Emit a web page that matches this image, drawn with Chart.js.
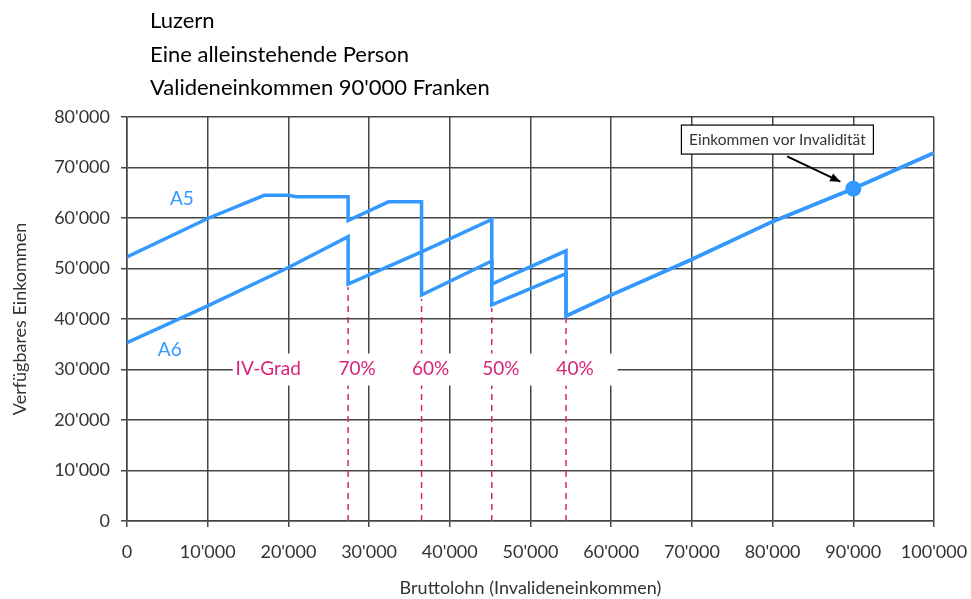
<!DOCTYPE html>
<html>
<head>
<meta charset="utf-8">
<script src="https://cdn.jsdelivr.net/npm/chart.js@4.4.0/dist/chart.umd.min.js"></script>
<style>
  body { margin: 0; background: #fff; }
  #wrap { width: 971px; height: 599px; }
</style>
</head>
<body>
<div id="wrap"><canvas id="chart" width="971" height="599"></canvas></div>
<script>
// A5 / A6: verfügbares Einkommen nach Bruttolohn
var a5X = [0, 10000, 17000, 20000, 21000, 27400, 27400, 32400, 36500, 36500, 45200, 45200, 54400, 54400, 60000, 70000, 80000, 90000, 100000];
var a5Y = [52300, 59900, 64500, 64500, 64200, 64200, 59500, 63200, 63200, 44750, 51500, 46900, 53500, 40600, 44750, 51800, 59300, 65800, 72900];
var a6X = [0, 10000, 20000, 27400, 27400, 36500, 45200, 45200, 54400, 54400, 60000, 70000, 80000, 90000, 100000];
var a6Y = [35300, 42600, 50200, 56300, 46900, 53300, 59700, 42800, 49000, 40600, 44750, 51800, 59300, 65800, 72900];

// IV-Grad Stufen
var ivLabels = ['70%', '60%', '50%', '40%'];
var ivX = [27400, 36500, 45200, 54400];
var ivTop = [46300, 44000, 42200, 40200];

var validX = 90000;
var validY = 65800;

var blue = '#3399ff';
var pink = '#d9237b';
var font = 'Lato, "DejaVu Sans", sans-serif';

function fmt(v) {
    return String(v).replace(/\B(?=(\d{3})+(?!\d))/g, "'");
}
function pts(xs, ys) {
    return xs.map(function (x, i) { return {x: x, y: ys[i]}; });
}

var datasets = [{
    label: 'A5',
    data: pts(a5X, a5Y),
    borderColor: blue,
    borderWidth: 3.5,
    pointRadius: 0,
    order: 1
}, {
    label: 'A6',
    data: pts(a6X, a6Y),
    borderColor: blue,
    borderWidth: 3.5,
    pointRadius: 0,
    order: 1
}, {
    label: 'Einkommen vor Invalidität',
    data: [{x: validX, y: validY}],
    pointRadius: 8,
    pointBackgroundColor: blue,
    pointBorderWidth: 0,
    showLine: false,
    order: 0
}];
ivX.forEach(function (x, i) {
    datasets.push({
        label: ivLabels[i],
        data: [{x: x, y: 0}, {x: x, y: ivTop[i]}],
        borderColor: pink,
        borderWidth: 1.5,
        borderDash: [6, 5],
        pointRadius: 0,
        order: 5
    });
});

var extras = {
    id: 'extras',
    afterDraw: function (chart) {
        var ctx = chart.ctx;
        var xs = chart.scales.x, ys = chart.scales.y;
        var area = chart.chartArea;
        ctx.save();

        // titles
        ctx.fillStyle = '#000';
        ctx.font = '22px ' + font;
        ctx.textBaseline = 'middle';
        ctx.textAlign = 'left';
        ctx.fillText('Luzern', area.left + 23, 21);
        ctx.fillText('Eine alleinstehende Person', area.left + 23, 55);
        ctx.fillText("Valideneinkommen 90'000 Franken", area.left + 23, 88);

        // IV-Grad band
        var yb = ys.getPixelForValue(30000);
        var x0 = xs.getPixelForValue(13100), x1 = xs.getPixelForValue(60800);
        ctx.fillStyle = '#fff';
        ctx.fillRect(x0, yb - 16, x1 - x0, 32);
        ctx.fillStyle = pink;
        ctx.font = '19px ' + font;
        ctx.textAlign = 'center';
        ctx.fillText('IV-Grad', xs.getPixelForValue(17500), yb - 1);
        ivX.forEach(function (x, i) {
            ctx.fillText(ivLabels[i], xs.getPixelForValue(x) + 9, yb - 1);
        });

        // series names
        ctx.fillStyle = blue;
        ctx.font = '19px ' + font;
        ctx.fillText('A5', xs.getPixelForValue(6800), ys.getPixelForValue(63700));
        ctx.fillText('A6', xs.getPixelForValue(5300), ys.getPixelForValue(33800));

        // annotation box
        var bx = xs.getPixelForValue(68700), by = ys.getPixelForValue(78400);
        ctx.fillStyle = '#fff';
        ctx.fillRect(bx, by, 192, 29);
        ctx.strokeStyle = '#000';
        ctx.lineWidth = 1.2;
        ctx.strokeRect(bx, by, 192, 29);
        ctx.fillStyle = '#333';
        ctx.font = '15.5px ' + font;
        ctx.fillText('Einkommen vor Invalidität', bx + 96, by + 15);

        // arrow
        var ax = xs.getPixelForValue(81800), ay = ys.getPixelForValue(72200);
        var tx = xs.getPixelForValue(88400), ty = ys.getPixelForValue(67200);
        ctx.strokeStyle = '#000';
        ctx.lineWidth = 2;
        ctx.beginPath();
        ctx.moveTo(ax, ay);
        ctx.lineTo(tx, ty);
        ctx.stroke();
        var ang = Math.atan2(ty - ay, tx - ax);
        ctx.fillStyle = '#000';
        ctx.beginPath();
        ctx.moveTo(tx, ty);
        ctx.lineTo(tx - 11 * Math.cos(ang - 0.4), ty - 11 * Math.sin(ang - 0.4));
        ctx.lineTo(tx - 11 * Math.cos(ang + 0.4), ty - 11 * Math.sin(ang + 0.4));
        ctx.closePath();
        ctx.fill();

        ctx.restore();
    }
};

new Chart(document.getElementById('chart').getContext('2d'), {
    type: 'line',
    data: { datasets: datasets },
    plugins: [extras],
    options: {
        responsive: false,
        animation: false,
        layout: { padding: { left: 0, top: 117, right: 37, bottom: 0 } },
        plugins: {
            legend: { display: false },
            tooltip: { enabled: false }
        },
        elements: { line: { tension: 0 } },
        scales: {
            x: {
                type: 'linear',
                min: 0,
                max: 100000,
                afterFit: function (s) { s.height = 78; s.paddingLeft = 0; s.paddingRight = 0; },
                grid: { color: '#444', lineWidth: 1.5, tickLength: 6 },
                border: { color: '#444', width: 1.5 },
                ticks: {
                    stepSize: 10000,
                    padding: 14,
                    color: '#333',
                    font: { family: font, size: 18 },
                    maxRotation: 0,
                    callback: function (v) { return fmt(v); }
                },
                title: {
                    display: true,
                    text: 'Bruttolohn (Invalideneinkommen)',
                    color: '#333',
                    font: { family: font, size: 18 },
                    padding: { top: 0, bottom: 0 }
                }
            },
            y: {
                min: 0,
                max: 80000,
                afterFit: function (s) { s.width = 127; s.paddingTop = 0; s.paddingBottom = 0; },
                grid: { color: '#444', lineWidth: 1.5, tickLength: 6 },
                border: { color: '#444', width: 1.5 },
                ticks: {
                    stepSize: 10000,
                    padding: 11,
                    color: '#333',
                    font: { family: font, size: 18 },
                    callback: function (v) { return fmt(v); }
                },
                title: {
                    display: true,
                    text: 'Verfügbares Einkommen',
                    color: '#333',
                    font: { family: font, size: 18 },
                    padding: { top: 9, bottom: 0 }
                }
            }
        }
    }
});
</script>
</body>
</html>
